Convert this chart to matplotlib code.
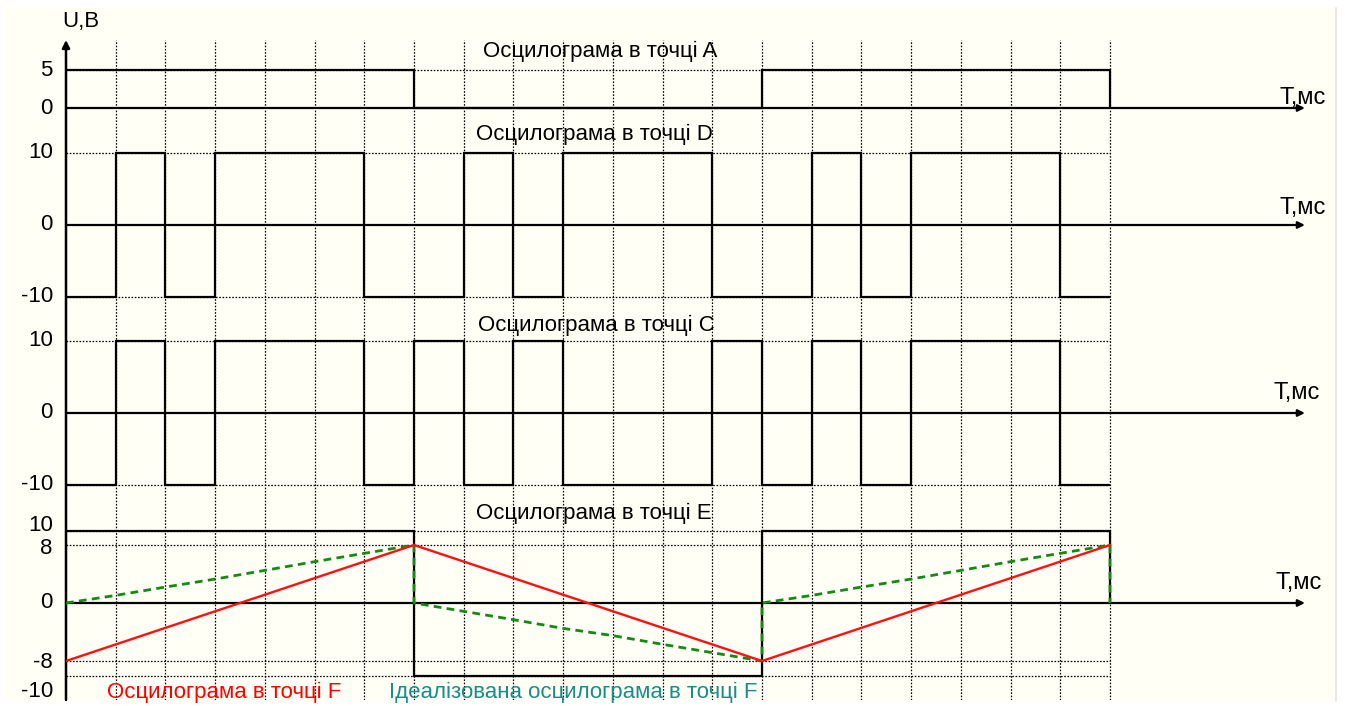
import matplotlib
matplotlib.use("Agg")
import matplotlib.pyplot as plt
from matplotlib.patches import Rectangle
from matplotlib.lines import Line2D

plt.rcParams['font.family'] = ['Liberation Sans', 'DejaVu Sans']

# ---------------- data ----------------
grid_t = list(range(1, 22))            # ms, vertical grid lines

a_t = [0, 7, 14, 21]
a_v = [5, 0, 5, 0]

d_t = [0, 1, 2, 3, 6, 8, 9, 10, 13, 15, 16, 17, 20, 21]
d_v = [-10, 10, -10, 10, -10, 10, -10, 10, -10, 10, -10, 10, -10, -10]

c_t = [0, 1, 2, 3, 6, 7, 8, 9, 10, 13, 14, 15, 16, 17, 20, 21]
c_v = [-10, 10, -10, 10, -10, 10, -10, 10, -10, 10, -10, 10, -10, 10, -10, -10]

e_t = [0, 7, 14, 21]
e_v = [10, -10, 10, 0]

f_t = [0, 7, 14, 21]
f_v = [-8, 8, -8, 8]

# idealised F: charge / discharge segments sampled every 1 ms
ideal_seg_t = [0, 1, 2, 3, 4, 5, 6, 7]
ideal_rise = [0, 1.05, 2.2, 3.3, 4.5, 5.7, 6.85, 8]
ideal_fall = [0, -1.15, -2.3, -3.5, -4.5, -5.7, -6.85, -8]

a_levels = [5]
d_levels = [10, -10]
c_levels = [10, -10]
e_levels = [10, 8, -8, -10]

a_ticks = ['5', '0']
d_ticks = ['10', '0', '-10']
c_ticks = ['10', '0', '-10']
e_ticks = ['10', '8', '0', '-8', '-10']

titles = ['Осцилограма в точці A', 'Осцилограма в точці D',
          'Осцилограма в точці C', 'Осцилограма в точці E']

# ---------------- layout ----------------
W, H = 1345, 706
X0, X1 = 66, 1312
PX_MS = 49.714
T_END = 24.92          # arrow tip on time axes
XLIM = (0, (X1 - X0) / PX_MS)

fig = plt.figure(figsize=(W / 100, H / 100), dpi=100)
fig.patch.set_facecolor('white')
fig.add_artist(Rectangle((5 / W, 1 - 701 / H), (1335 - 5) / W, (701 - 8) / H,
                         transform=fig.transFigure, facecolor='#fffff6',
                         edgecolor='none', zorder=0))
fig.add_artist(Line2D([1335.5 / W, 1335.5 / W], [1 - 701 / H, 1 - 8 / H],
                      transform=fig.transFigure, color='#e4e4e4', lw=1.2))

DOT = (0, (1.3, 1.3))
BLK = dict(color='black', lw=1.6, solid_joinstyle='miter', solid_capstyle='butt')
FS_TICK = 16
FS_TITLE = 16
FS_T = 17


def fax(l, top, r, bot):
    ax = fig.add_axes([l / W, 1 - bot / H, (r - l) / W, (bot - top) / H])
    ax.set_xlim(*XLIM)
    ax.patch.set_alpha(0)
    ax.axis('off')
    return ax


# background: vertical grid and voltage axis
bg = fax(X0, 40, X1, 700)
bg.set_ylim(0, 1)
bg.vlines(grid_t, 0, 1, colors='black', lw=0.9, linestyles=[DOT])
bg.annotate('', xy=(0, 1), xytext=(0, 0),
            arrowprops=dict(arrowstyle='-|>', color='black', lw=1.8,
                            mutation_scale=11, shrinkA=0, shrinkB=0))
fig.text(62 / W, 1 - 22 / H, 'U,B', fontsize=16, va='center', ha='left')


def panel(zero, ppu, top, bot):
    ax = fax(X0, top, X1, bot)
    ax.set_ylim(-(bot - zero) / ppu, (zero - top) / ppu)
    return ax


axA = panel(108, 7.6, 55, 118)
axD = panel(225, 7.2, 140, 305)
axC = panel(413, 7.2, 330, 492)
axE = panel(603, 7.25, 520, 680)

panels = [
    (axA, a_t, a_v, a_levels, a_ticks, [5, 0], [(0, 0), (0, 0)], (0, -1)),
    (axD, d_t, d_v, d_levels, d_ticks, [10, 0, -10], [(0, 0)] * 3, (0, 6)),
    (axC, c_t, c_v, c_levels, c_ticks, [10, 0, -10], [(0, 0)] * 3, (0, 9)),
    (axE, e_t, e_v, e_levels, e_ticks, [10, 8, 0, -8, -10],
     [(0, 5), (0, -3), (0, 0), (0, -1), (0, -16)], (0, 9)),
]
t_lab_x = [1280, 1280, 1273, 1275]

for i, (ax, tt, vv, levels, ticks, tick_vals, offs, tlab_off) in enumerate(panels):
    ax.hlines(levels, 0, 21, colors='black', lw=0.9, linestyles=[DOT], zorder=1)
    ax.annotate('', xy=(T_END, 0), xytext=(0, 0),
                arrowprops=dict(arrowstyle='-|>', color='black', lw=1.6,
                                mutation_scale=10, shrinkA=0, shrinkB=0),
                zorder=2)
    ax.step(tt, vv, where='post', zorder=3, **BLK)
    for lab, val, (dx, dy) in zip(ticks, tick_vals, offs):
        ax.annotate(lab, xy=(0, val), xytext=(-9.5 + dx, dy * 0.72),
                    textcoords='offset points', ha='right', va='center',
                    fontsize=FS_TICK, annotation_clip=False)
    ax.annotate('T,мс', xy=((t_lab_x[i] - X0) / PX_MS, 0),
                xytext=(0, tlab_off[1] * 0.72), textcoords='offset points',
                ha='left', va='bottom', fontsize=FS_T, annotation_clip=False)

title_pos = [(600, 51), (594, 134), (596, 325), (594, 513)]
for txt, (px, py) in zip(titles, title_pos):
    fig.text(px / W, 1 - py / H, txt, fontsize=FS_TITLE, ha='center', va='center')

# F oscillograms on the E panel
ideal_t, ideal_v = [], []
for k, seg in enumerate([ideal_rise, ideal_fall, ideal_rise]):
    ideal_t += [7 * k + s for s in ideal_seg_t]
    ideal_v += seg
ideal_t.append(21)
ideal_v.append(0)
axE.plot(ideal_t, ideal_v, color='#138a13', lw=2.0,
         linestyle=(0, (2.8, 1.9)), zorder=4)
axE.plot(f_t, f_v, color='#ff1010', lw=1.7, zorder=5)

fig.text(224 / W, 1 - 692 / H, 'Осцилограма в точці F', color='#ff0000',
         fontsize=FS_TITLE, ha='center', va='center')
fig.text(573 / W, 1 - 692 / H, 'Ідеалізована осцилограма в точці F',
         color='#1a8c8c', fontsize=FS_TITLE, ha='center', va='center')

fig.savefig('out.png', dpi=100, facecolor='white')
